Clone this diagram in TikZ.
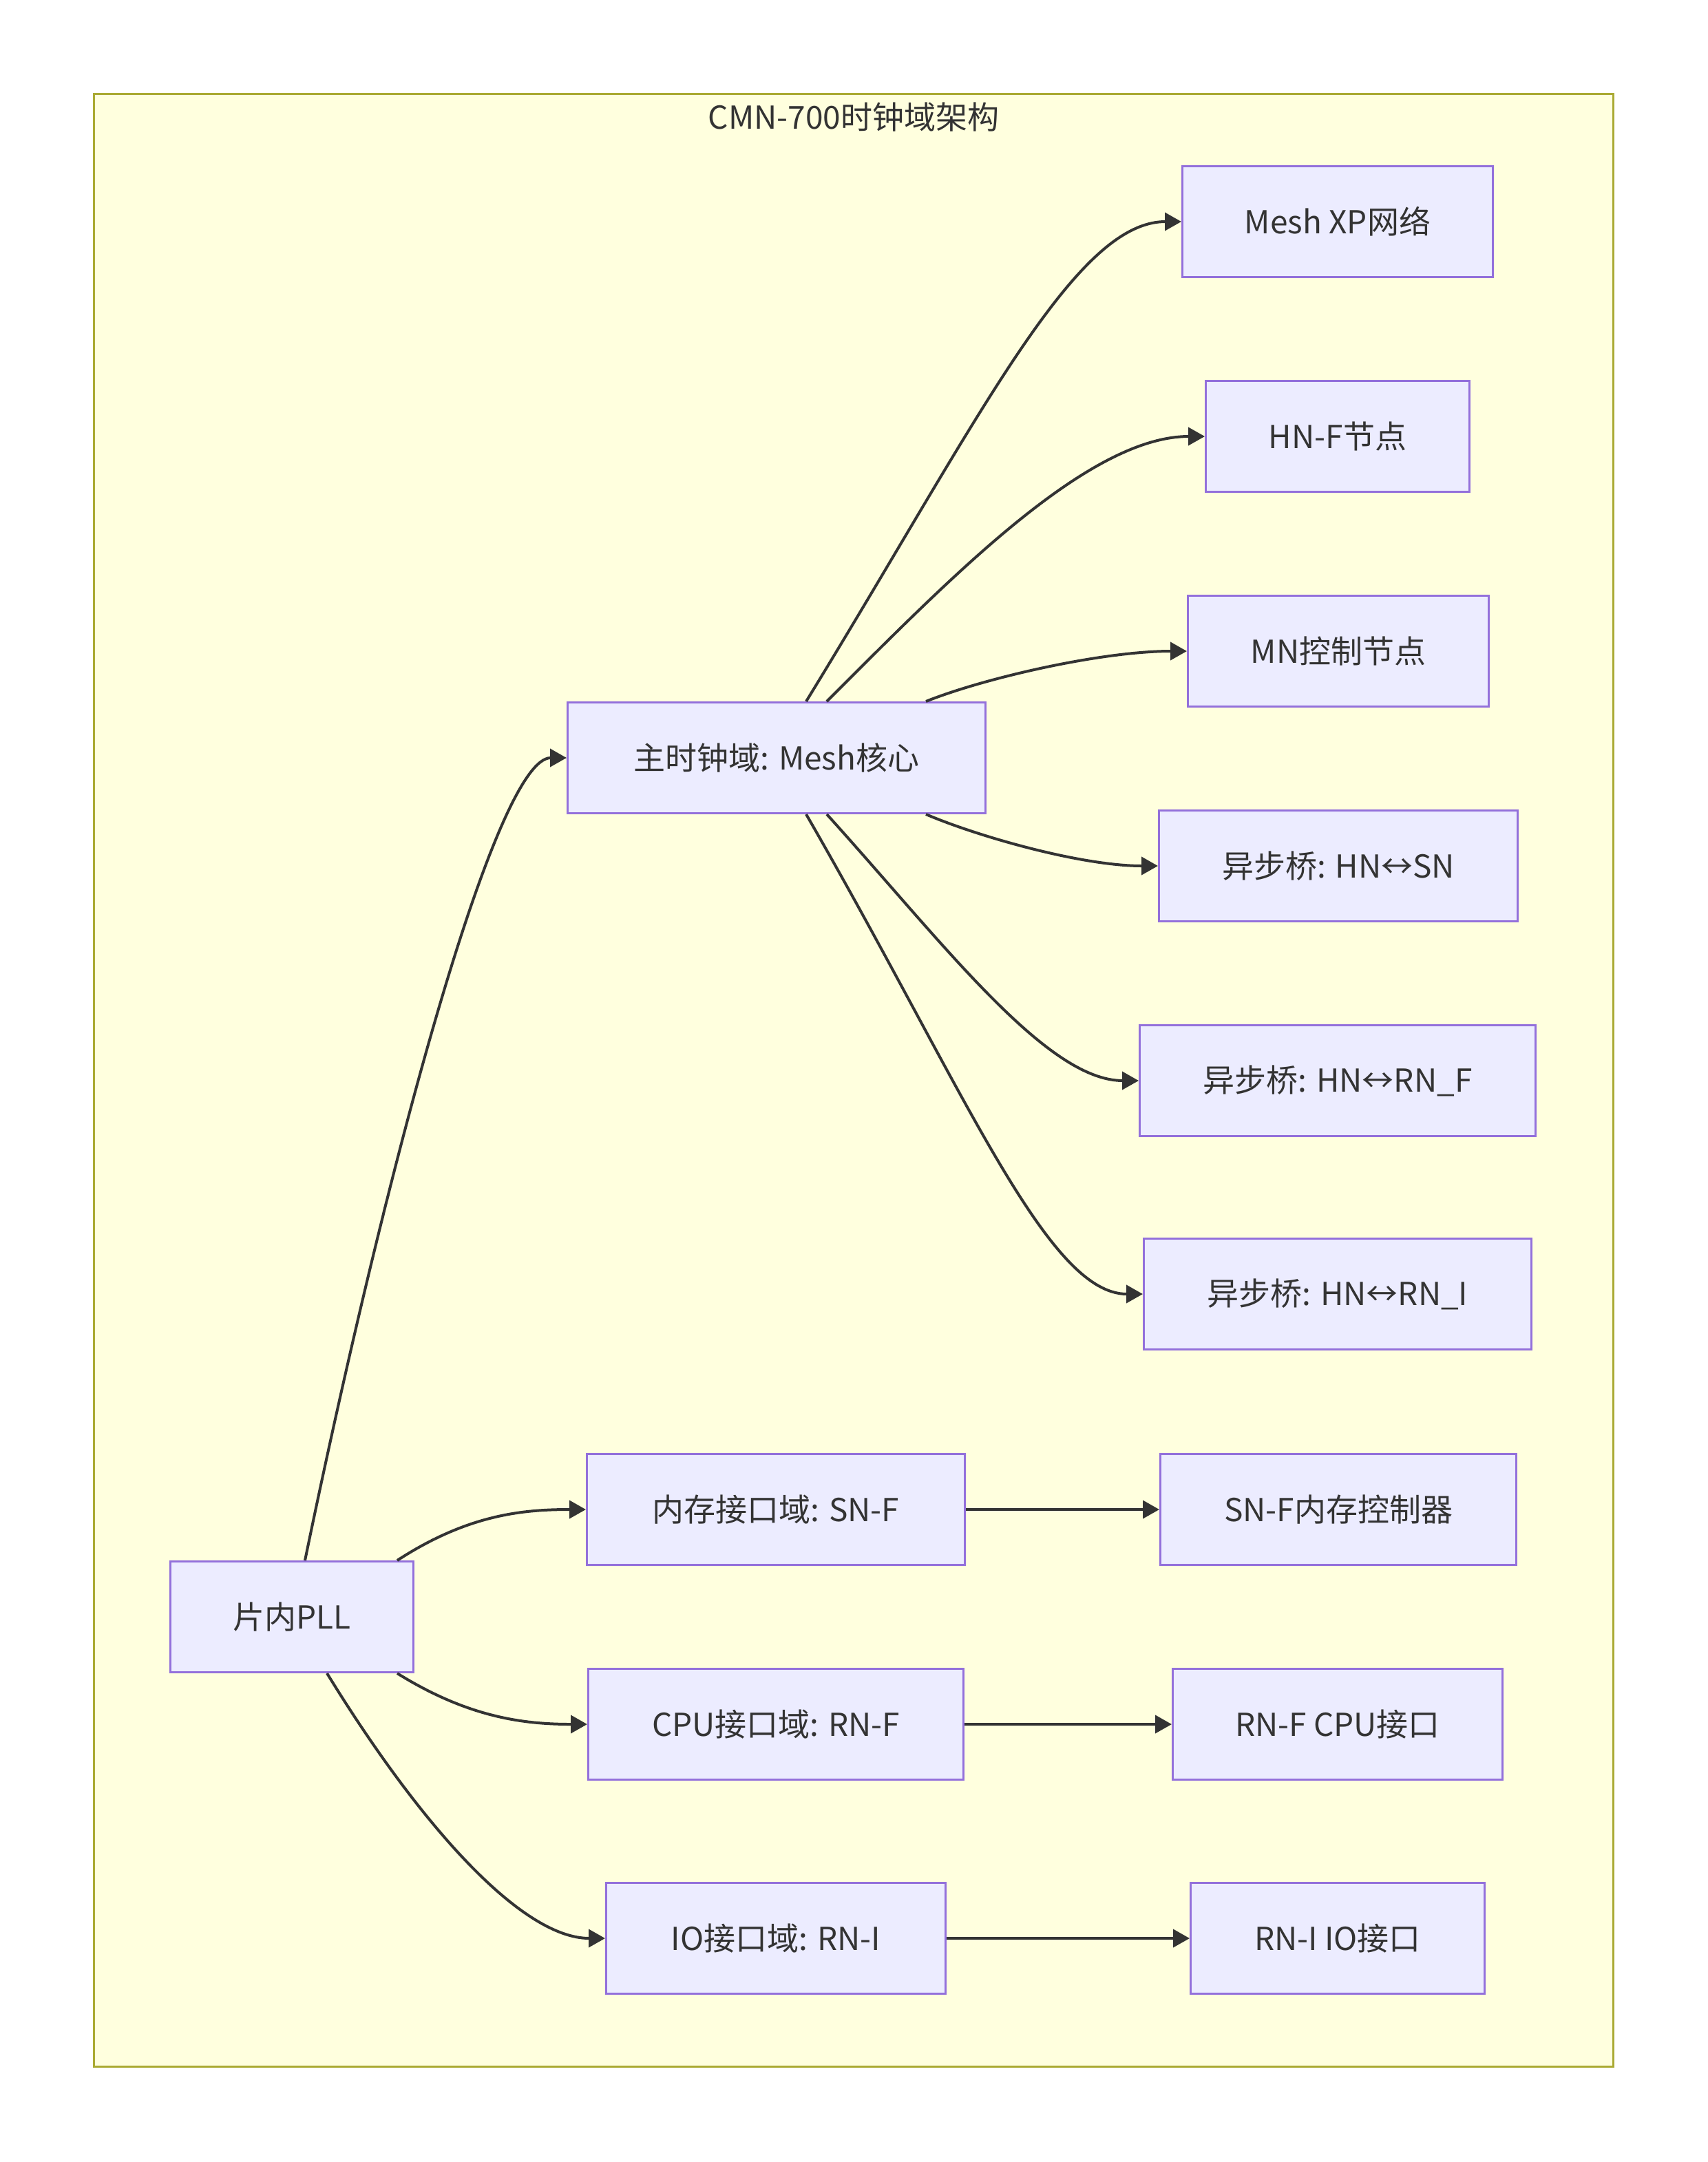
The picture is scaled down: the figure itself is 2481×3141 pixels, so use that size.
\documentclass[tikz,border=0pt]{standalone}
\usepackage{fontspec}
\setmainfont{Noto Sans CJK SC}
\usetikzlibrary{arrows.meta}
\definecolor{boxfill}{HTML}{ECECFF}
\definecolor{boxline}{HTML}{9370DB}
\definecolor{clfill}{HTML}{FFFFDE}
\definecolor{clline}{HTML}{AAAA33}
\definecolor{ink}{HTML}{333333}
\begin{document}
\begin{tikzpicture}[x=1pt,y=-1pt,
  box/.style={draw=boxline,fill=boxfill,line width=3pt,minimum height=161pt,inner sep=0pt,
    text=ink,font=\fontsize{46}{54}\selectfont},
  link/.style={draw=ink,line width=4pt,-{Triangle[length=24pt,width=26pt]}}]
\useasboundingbox (0,0) rectangle (2481,3141);
\fill[white] (0,0) rectangle (2481,3141);
\draw[draw=clline,fill=clfill,line width=3pt] (136,136) rectangle (2343,3002);
\node[text=ink,font=\fontsize{46}{54}\selectfont] (title) at (1240,170) {CMN-700时钟域架构};

\node[box,minimum width=451pt] (xp) at (1943,322) {Mesh XP网络};
\node[box,minimum width=383pt] (hnf) at (1943,634) {HN-F节点};
\node[box,minimum width=437pt] (mn) at (1944,946) {MN控制节点};
\node[box,minimum width=521pt] (brsn) at (1944,1258) {异步桥: HN↔SN};
\node[box,minimum width=575pt] (brrnf) at (1943,1570) {异步桥: HN↔RN\_F};
\node[box,minimum width=563pt] (brrni) at (1943,1880) {异步桥: HN↔RN\_I};
\node[box,minimum width=517pt] (snf) at (1944,2193) {SN-F内存控制器};
\node[box,minimum width=479pt] (rnf) at (1943,2505) {RN-F CPU接口};
\node[box,minimum width=427pt] (rni) at (1943,2816) {RN-I IO接口};

\node[box,minimum width=607pt] (mesh) at (1128,1101) {主时钟域: Mesh核心};
\node[box,minimum width=549pt] (memd) at (1127,2193) {内存接口域: SN-F};
\node[box,minimum width=545pt] (cpud) at (1127,2505) {CPU接口域: RN-F};
\node[box,minimum width=493pt] (iod) at (1127,2816) {IO接口域: RN-I};
\node[box,minimum width=353pt] (pll) at (424,2349) {片内PLL};

% PLL fan-out
\draw[link] ([xshift=19pt]pll.north) .. controls (560,1700) and (720,1101) .. (mesh.west);
\draw[link] ([xshift=153pt]pll.north) .. controls (680,2200) and (760,2193) .. (memd.west);
\draw[link] ([xshift=153pt]pll.south) .. controls (680,2495) and (760,2505) .. (cpud.west);
\draw[link] ([xshift=51pt]pll.south) .. controls (615,2659) and (760,2816) .. (iod.west);

% Mesh fan-out
\draw[link] ([xshift=43pt]mesh.north) .. controls (1421,611) and (1560,322) .. (xp.west);
\draw[link] ([xshift=73pt]mesh.north) .. controls (1380,840) and (1580,634) .. (hnf.west);
\draw[link] ([xshift=217pt]mesh.north) .. controls (1430,985) and (1600,946) .. (mn.west);
\draw[link] ([xshift=217pt]mesh.south) .. controls (1420,1215) and (1570,1258) .. (brsn.west);
\draw[link] ([xshift=73pt]mesh.south) .. controls (1370,1370) and (1520,1570) .. (brrnf.west);
\draw[link] ([xshift=43pt]mesh.south) .. controls (1400,1580) and (1520,1880) .. (brrni.west);

% straight links
\draw[link] (memd.east) -- (snf.west);
\draw[link] (cpud.east) -- (rnf.west);
\draw[link] (iod.east) -- (rni.west);
\end{tikzpicture}
\end{document}
